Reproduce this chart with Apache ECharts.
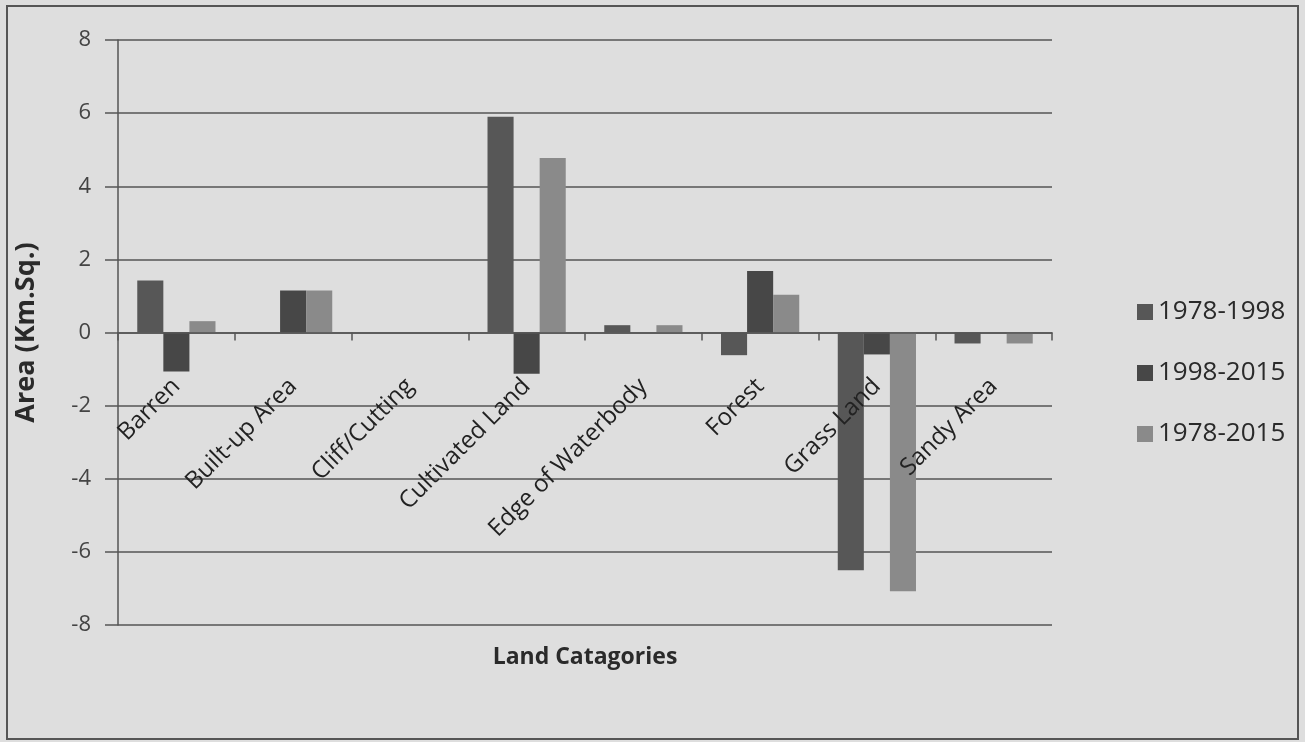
<!DOCTYPE html>
<html>
<head>
<meta charset="utf-8">
<script src="https://cdn.jsdelivr.net/npm/echarts@6/dist/echarts.min.js"></script>
<style>
  html, body { margin: 0; padding: 0; background: #dedede; }
  #chart { width: 1305px; height: 742px; }
</style>
</head>
<body>
<div id="chart"></div>
<script>
const categories = ['Barren', 'Built-up Area', 'Cliff/Cutting', 'Cultivated Land', 'Edge of Waterbody', 'Forest', 'Grass Land', 'Sandy Area'];
const period1 = [1.42, 0, 0, 5.9, 0.2, -0.62, -6.5, -0.3];     // 1978-1998
const period2 = [-1.07, 1.15, 0, -1.13, 0, 1.68, -0.6, 0];     // 1998-2015
const period3 = [0.31, 1.15, 0, 4.77, 0.2, 1.03, -7.08, -0.3]; // 1978-2015
const seriesNames = ['1978-1998', '1998-2015', '1978-2015'];
const yTicks = [-8, -6, -4, -2, 0, 2, 4, 6, 8];

const font = 'Open Sans';
const gridTop = 40, gridBottom = 117, chartH = 742;
// the category axis sits on the zero line, halfway down the symmetric value range
const zeroOffset = -(chartH - gridTop - gridBottom) / 2;

const myChart = echarts.init(document.getElementById('chart'));

const option = {
  backgroundColor: '#dedede',
  animation: false,
  textStyle: { fontFamily: font, color: '#333' },
  graphic: [{
    type: 'rect',
    shape: { x: 7, y: 6, width: 1291, height: 733 },
    style: { fill: 'none', stroke: '#555', lineWidth: 2 }
  }],
  grid: { left: 118, right: 253, top: gridTop, bottom: gridBottom, containLabel: false, outerBoundsMode: 'none' },
  legend: {
    orient: 'vertical',
    left: 1132,
    top: 294,
    itemGap: 35,
    itemWidth: 16,
    itemHeight: 16,
    icon: 'rect',
    textStyle: { fontFamily: font, fontSize: 26, color: '#2a2a2a' },
    data: seriesNames
  },
  xAxis: {
    type: 'category',
    data: categories,
    offset: zeroOffset,
    z: 5,
    name: 'Land Catagories',
    nameLocation: 'middle',
    nameGap: 313,
    nameTextStyle: { fontFamily: font, fontWeight: 'bold', fontSize: 23, color: '#2a2a2a' },
    axisLine: { onZero: false, lineStyle: { color: '#555', width: 1.5 } },
    axisTick: { show: true, length: 8, lineStyle: { color: '#555', width: 1.5 } },
    axisLabel: { interval: 0, rotate: 45, margin: 50, fontSize: 24, color: '#222', fontFamily: font }
  },
  yAxis: {
    type: 'value',
    min: yTicks[0],
    max: yTicks[yTicks.length - 1],
    interval: 2,
    name: 'Area (Km.Sq.)',
    nameLocation: 'middle',
    nameRotate: 90,
    nameGap: 78,
    nameTextStyle: { fontFamily: font, fontWeight: 'bold', fontSize: 27, color: '#2a2a2a' },
    axisLine: { show: true, lineStyle: { color: '#555', width: 1.5 } },
    axisTick: { show: true, length: 13, lineStyle: { color: '#555', width: 1.5 } },
    axisLabel: { margin: 27, fontSize: 22, color: '#444', fontFamily: font },
    splitLine: { show: true, lineStyle: { color: '#555', width: 1.5 } }
  },
  series: [
    { name: seriesNames[0], type: 'bar', data: period1, barGap: '0%', barCategoryGap: '33%', itemStyle: { color: '#575757' } },
    { name: seriesNames[1], type: 'bar', data: period2, barGap: '0%', barCategoryGap: '33%', itemStyle: { color: '#474747' } },
    { name: seriesNames[2], type: 'bar', data: period3, barGap: '0%', barCategoryGap: '33%', itemStyle: { color: '#8a8a8a' } }
  ]
};

option && myChart.setOption(option);
</script>
</body>
</html>
